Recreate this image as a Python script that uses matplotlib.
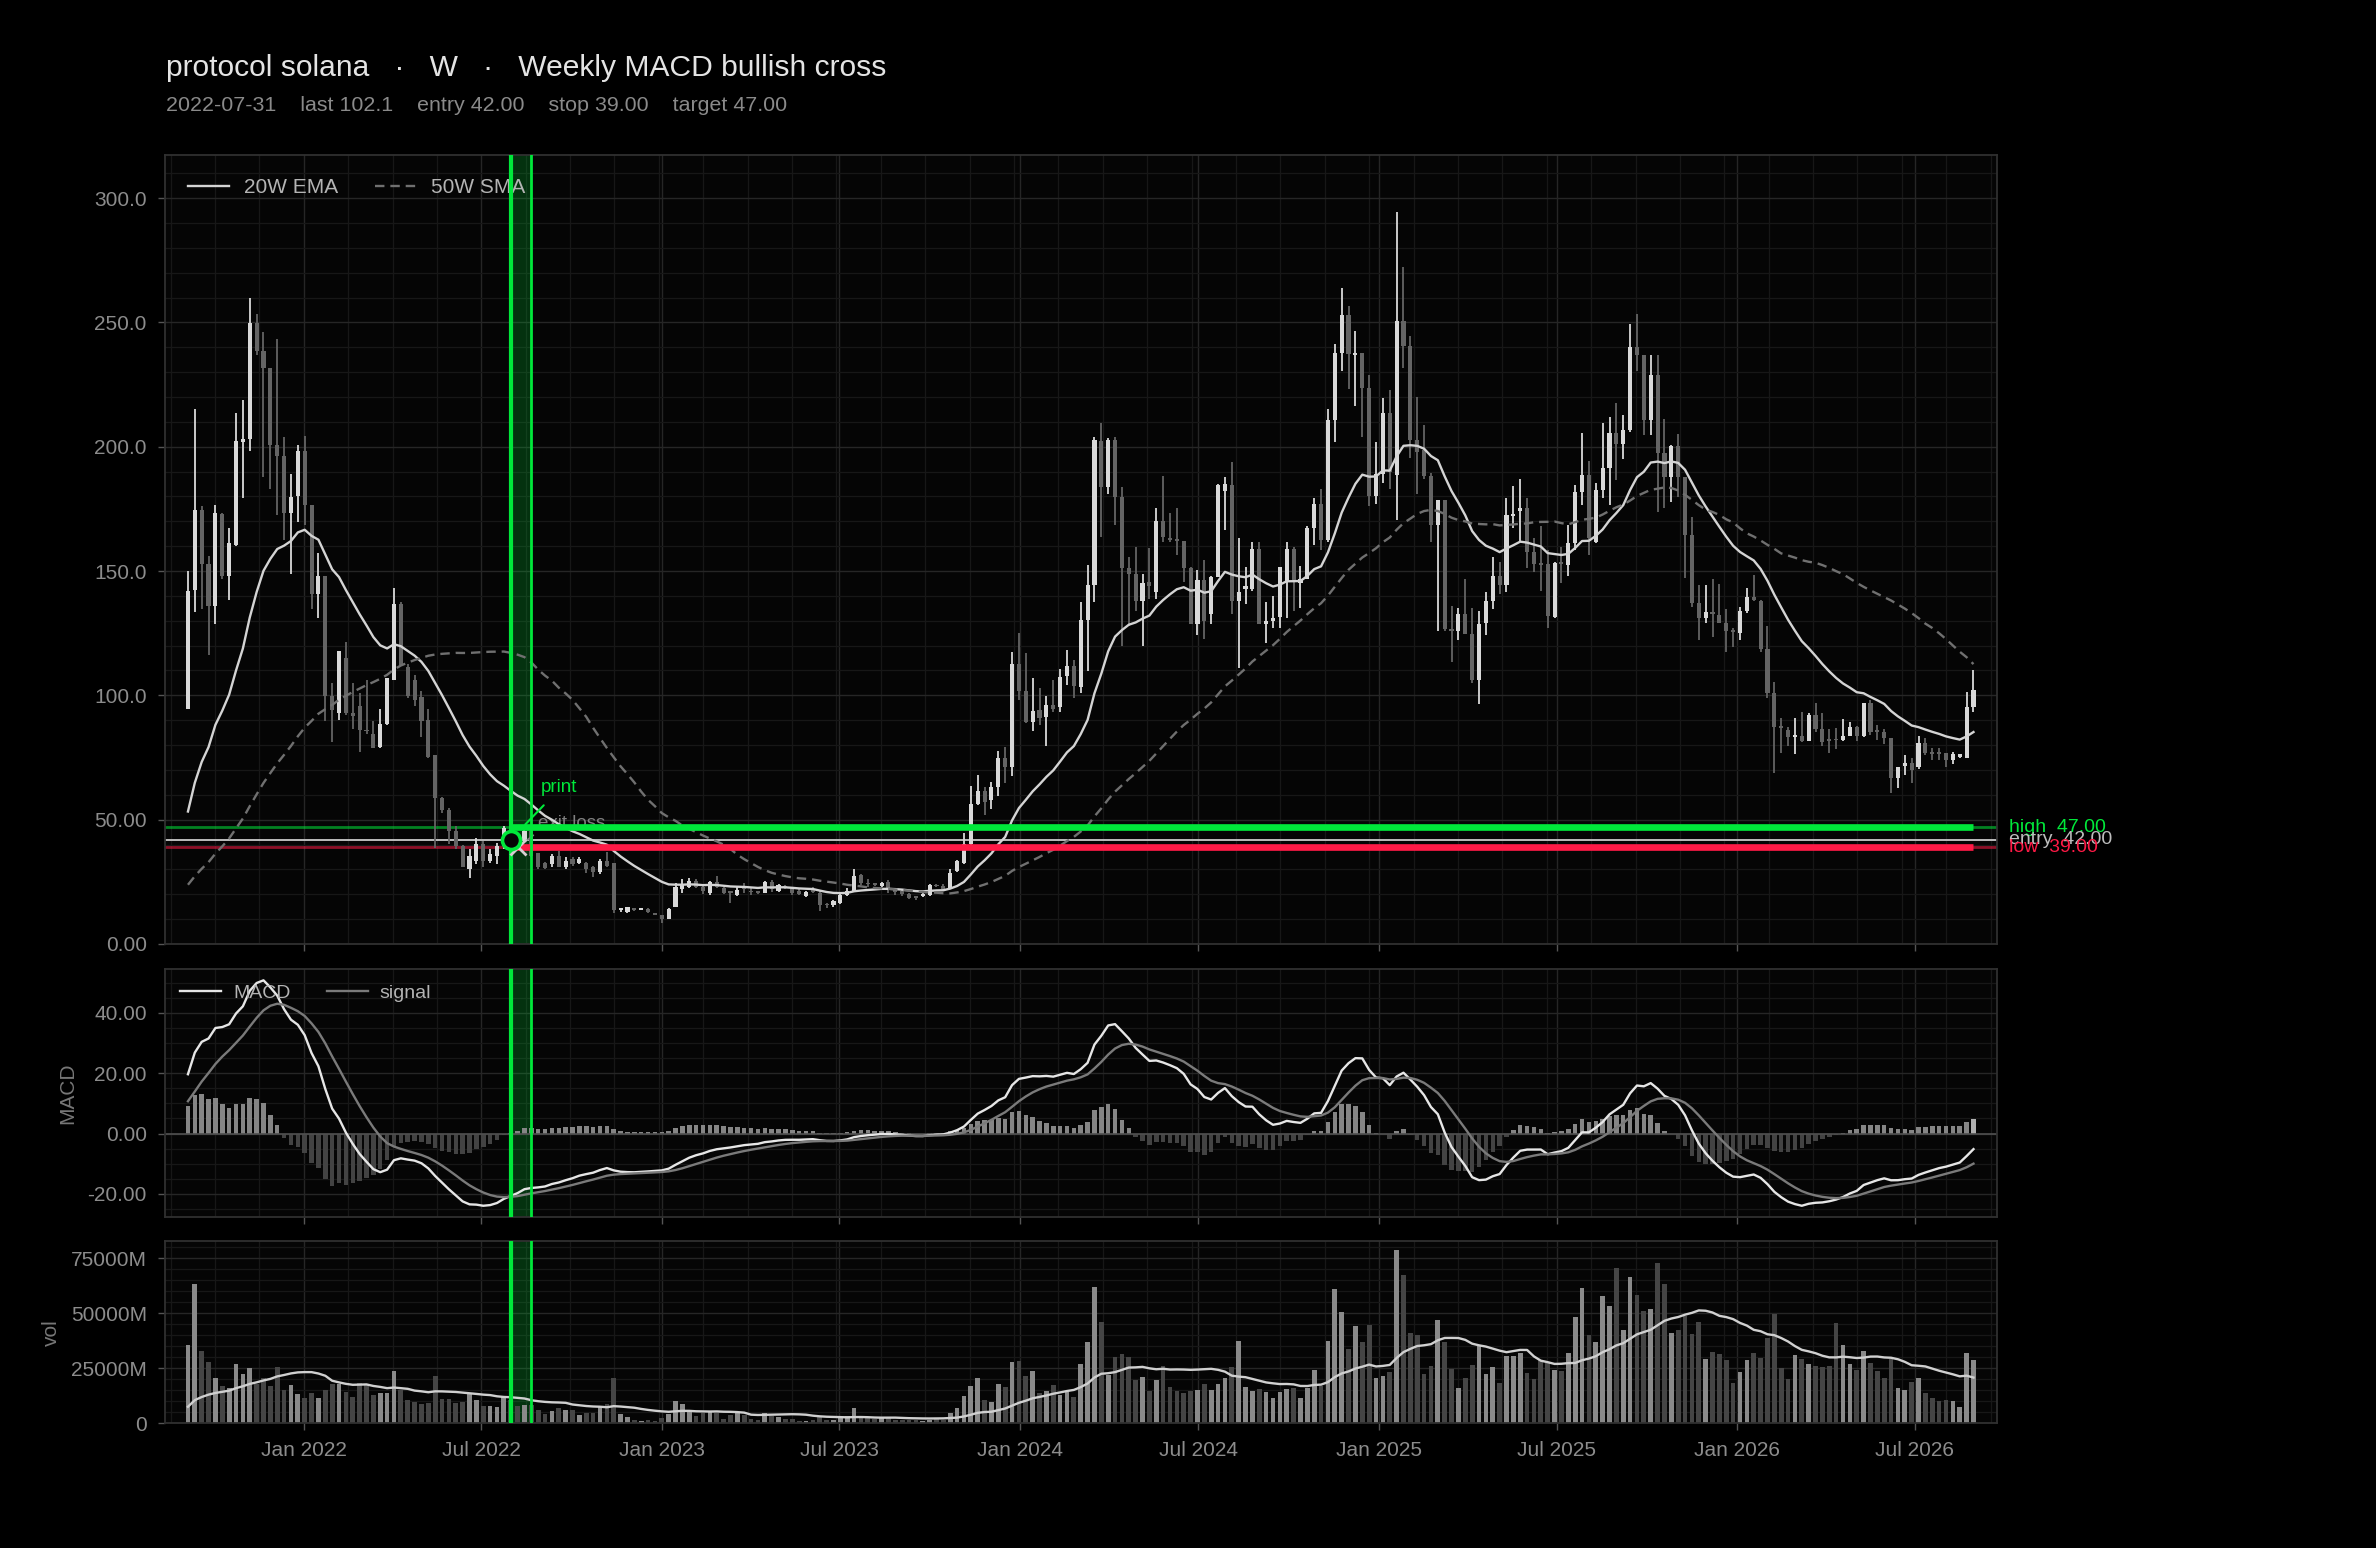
import matplotlib
matplotlib.use("Agg")
import matplotlib.pyplot as plt
import matplotlib.dates as mdates
import matplotlib.transforms as mtrans
from matplotlib.ticker import MultipleLocator, AutoMinorLocator, FuncFormatter
import numpy as np
import pandas as pd

plt.rcParams['font.family'] = ['Liberation Sans', 'DejaVu Sans']

# weekly candles, one per Sunday starting here
first_week = "2021-09-05"

opens = [
    94.7, 142.5, 174.7, 153.0, 136.1, 172.8, 148.0, 160.3, 202.0, 203.0,
    249.6, 238.7, 231.5, 200.7, 196.2, 173.2, 180.0, 198.3, 176.5, 140.8,
    148.0, 99.8, 93.0, 115.2, 93.0, 95.7, 86.0, 84.4, 79.3, 88.5,
    106.0, 136.7, 111.5, 106.0, 99.2, 89.9, 76.2, 58.8, 53.7, 45.5,
    39.3, 30.1, 33.2, 40.3, 33.2, 35.2, 39.3, 45.0, 42.0, 41.3,
    45.5, 36.6, 32.5, 32.1, 35.2, 31.1, 34.0, 32.5, 32.5, 31.0,
    29.0, 33.5, 32.5, 13.7, 12.7, 14.0, 13.8, 14.1, 12.3, 11.5,
    10.2, 14.9, 22.2, 23.0, 25.4, 23.0, 20.4, 24.8, 22.5, 21.0,
    19.5, 23.0, 21.5, 20.9, 20.7, 25.1, 21.5, 23.0, 22.5, 21.5,
    19.3, 22.2, 20.7, 16.0, 15.6, 16.4, 19.6, 21.0, 27.7, 24.5,
    24.0, 23.4, 24.8, 21.5, 21.5, 20.0, 18.9, 19.3, 19.6, 23.6,
    23.4, 22.5, 29.5, 32.7, 40.4, 56.5, 61.6, 58.0, 63.1, 74.8,
    71.1, 112.8, 101.8, 89.4, 94.1, 91.2, 96.0, 95.3, 107.6, 112.0,
    103.3, 130.3, 144.4, 202.3, 183.9, 202.9, 179.8, 151.2, 148.9, 138.1,
    145.5, 141.7, 170.0, 163.2, 163.0, 162.0, 151.2, 128.8, 146.2, 132.6,
    147.6, 182.0, 184.7, 138.1, 142.8, 142.8, 158.8, 128.8, 130.0, 131.6,
    145.5, 158.8, 145.2, 146.9, 167.3, 176.8, 162.5, 210.8, 237.7, 252.9,
    237.0, 237.7, 223.7, 180.2, 189.0, 213.5, 188.8, 250.5, 240.7, 202.9,
    198.5, 188.3, 168.4, 178.4, 126.5, 125.8, 132.6, 124.5, 106.1, 129.2,
    138.1, 148.2, 144.2, 172.0, 174.1, 175.4, 157.8, 152.8, 153.0, 131.7,
    153.0, 152.4, 161.1, 181.9, 188.6, 161.8, 182.8, 191.3, 205.6, 201.1,
    206.7, 240.2, 236.9, 210.7, 228.8, 197.6, 187.9, 200.3, 187.9, 164.5,
    137.0, 131.0, 133.2, 132.3, 129.2, 125.8, 125.2, 134.1, 139.4, 138.1,
    118.5, 100.8, 87.2, 86.1, 83.4, 83.7, 81.8, 92.1, 86.4, 82.2,
    82.3, 82.0, 83.7, 87.2, 83.7, 96.8, 85.6, 85.4, 82.7, 66.6,
    71.6, 72.7, 71.0, 81.0, 77.2, 76.8, 76.7, 73.8, 75.4, 74.7,
    95.5,
]
highs = [
    150.1, 215.1, 176.0, 156.0, 176.7, 173.5, 167.5, 213.7, 218.8, 259.8,
    253.3, 246.0, 231.5, 243.4, 204.0, 189.0, 200.7, 204.4, 176.5, 157.3,
    148.0, 104.9, 117.7, 121.3, 104.9, 100.8, 106.0, 89.5, 94.7, 107.0,
    143.3, 137.7, 112.5, 108.0, 101.9, 94.7, 76.2, 59.0, 54.7, 47.5,
    40.0, 38.3, 42.8, 41.3, 38.3, 40.7, 47.5, 47.0, 44.0, 46.0,
    46.5, 36.6, 33.0, 36.2, 37.2, 35.0, 35.0, 35.0, 33.0, 31.5,
    34.2, 37.0, 32.5, 14.5, 15.0, 14.2, 14.4, 14.3, 12.6, 11.8,
    14.3, 24.4, 26.3, 26.6, 26.0, 23.5, 25.4, 27.3, 23.0, 21.5,
    22.9, 24.4, 22.5, 21.3, 25.4, 25.8, 24.0, 23.8, 23.0, 22.0,
    21.5, 22.8, 21.5, 16.6, 17.5, 20.7, 22.5, 30.2, 28.3, 26.0,
    24.6, 24.8, 25.8, 22.0, 22.0, 20.5, 19.3, 20.5, 24.0, 24.3,
    24.0, 30.2, 33.9, 44.8, 63.4, 67.8, 63.1, 65.3, 77.7, 79.2,
    117.5, 125.2, 117.2, 106.9, 102.9, 99.6, 106.2, 110.6, 118.3, 114.2,
    137.4, 152.3, 204.0, 209.7, 203.5, 204.0, 183.9, 155.7, 159.8, 148.9,
    159.1, 175.4, 188.3, 173.4, 175.4, 162.0, 151.5, 150.3, 154.4, 148.2,
    185.2, 188.0, 193.8, 163.2, 151.6, 161.8, 161.8, 137.4, 140.0, 151.6,
    161.5, 159.8, 152.1, 168.0, 179.2, 182.9, 215.1, 241.2, 263.8, 256.6,
    246.4, 237.7, 228.7, 202.0, 219.6, 223.0, 294.4, 272.2, 244.5, 220.0,
    208.7, 189.3, 178.4, 178.4, 136.0, 135.3, 146.9, 135.3, 134.0, 141.7,
    155.7, 153.7, 179.5, 184.3, 187.0, 179.2, 163.2, 168.0, 158.4, 153.5,
    159.8, 168.5, 184.6, 205.6, 194.4, 185.5, 209.7, 211.8, 217.7, 212.7,
    249.3, 253.4, 237.0, 236.9, 236.9, 211.0, 200.7, 205.1, 188.0, 171.9,
    144.4, 144.4, 146.7, 144.8, 134.6, 127.0, 135.4, 143.0, 148.4, 138.4,
    127.9, 105.5, 90.8, 87.2, 90.8, 93.5, 92.8, 97.1, 93.1, 86.4,
    86.8, 90.4, 89.4, 87.5, 97.1, 98.1, 88.0, 86.4, 82.7, 71.2,
    76.0, 74.7, 83.7, 82.7, 78.7, 78.7, 76.7, 77.4, 76.6, 101.5,
    110.2,
]
lows = [
    94.7, 133.7, 134.7, 116.2, 128.5, 147.0, 138.2, 160.0, 179.2, 198.3,
    237.0, 188.0, 182.9, 172.6, 162.4, 149.0, 169.6, 168.5, 134.7, 131.0,
    89.5, 81.3, 90.0, 92.0, 86.5, 77.2, 84.4, 78.9, 78.9, 88.0,
    106.0, 112.0, 98.8, 95.7, 83.4, 75.0, 38.7, 52.6, 40.3, 38.3,
    31.0, 26.4, 32.1, 31.1, 32.5, 32.1, 38.3, 39.0, 38.0, 40.5,
    35.0, 30.0, 30.0, 31.1, 31.0, 30.0, 31.5, 32.0, 28.4, 27.0,
    28.0, 31.0, 12.5, 13.0, 12.5, 13.2, 13.6, 12.5, 11.5, 8.3,
    10.0, 14.8, 20.7, 22.5, 22.5, 20.0, 19.6, 22.5, 20.0, 16.3,
    19.3, 20.7, 19.6, 20.2, 20.4, 21.0, 21.0, 22.0, 19.8, 19.5,
    19.0, 20.5, 13.4, 14.5, 15.0, 16.0, 19.2, 20.8, 23.6, 23.0,
    23.2, 23.0, 20.7, 19.8, 19.3, 18.0, 17.5, 18.9, 19.3, 22.8,
    21.8, 22.2, 28.8, 32.1, 39.7, 56.0, 51.7, 54.3, 59.4, 64.6,
    67.5, 98.2, 88.7, 85.8, 88.0, 79.5, 93.5, 93.5, 104.0, 98.9,
    100.8, 109.9, 137.6, 163.5, 180.9, 168.4, 120.0, 127.9, 134.0, 119.7,
    138.7, 138.7, 161.5, 161.8, 156.4, 145.5, 128.5, 124.1, 122.7, 128.8,
    147.6, 166.6, 132.6, 110.9, 136.7, 142.1, 128.5, 121.0, 127.2, 127.2,
    131.2, 134.0, 135.3, 146.9, 160.5, 158.4, 161.8, 202.0, 230.5, 223.3,
    216.5, 204.0, 176.1, 177.0, 185.6, 183.0, 170.7, 231.8, 195.5, 180.9,
    187.0, 161.6, 125.8, 126.0, 113.6, 122.4, 124.5, 104.8, 96.6, 124.1,
    134.7, 140.8, 141.4, 167.3, 161.8, 151.2, 149.6, 142.1, 127.0, 131.0,
    145.0, 148.0, 158.5, 176.5, 156.4, 161.4, 179.2, 176.5, 186.6, 194.9,
    206.0, 230.6, 204.7, 204.7, 173.9, 175.2, 177.9, 179.6, 147.1, 135.7,
    122.3, 129.0, 123.6, 129.0, 117.6, 119.6, 122.3, 133.0, 138.0, 117.6,
    98.8, 68.9, 77.0, 79.7, 76.4, 81.4, 81.5, 85.4, 79.7, 77.0,
    78.3, 81.8, 83.5, 81.8, 83.3, 84.1, 82.0, 80.5, 60.6, 62.6,
    68.0, 64.6, 70.3, 76.0, 74.0, 73.8, 71.0, 72.4, 75.0, 74.7,
    93.5,
]
closes = [
    141.9, 174.7, 152.7, 136.1, 173.2, 148.0, 161.4, 202.4, 203.0, 249.6,
    238.7, 231.5, 200.7, 196.2, 173.2, 179.8, 198.3, 176.7, 140.8, 148.0,
    99.8, 94.3, 117.7, 93.0, 91.6, 86.1, 85.5, 78.9, 88.5, 107.0,
    136.7, 112.1, 99.8, 98.2, 89.5, 75.2, 58.8, 53.7, 45.5, 39.3,
    31.1, 35.2, 40.3, 33.2, 36.2, 39.3, 46.5, 42.0, 41.3, 45.5,
    35.2, 31.1, 30.5, 35.2, 31.1, 33.2, 32.0, 34.0, 30.1, 29.0,
    33.5, 31.5, 13.7, 14.0, 14.7, 13.7, 14.1, 12.7, 11.7, 10.2,
    14.1, 22.9, 23.6, 25.4, 23.0, 21.5, 24.8, 23.0, 20.7, 20.5,
    21.9, 22.2, 20.8, 20.7, 25.1, 22.2, 23.6, 22.5, 20.7, 20.0,
    21.0, 21.0, 15.6, 15.5, 17.1, 19.6, 21.5, 27.3, 24.4, 24.0,
    23.8, 24.4, 22.2, 21.0, 20.0, 18.5, 18.5, 20.0, 23.6, 23.2,
    22.2, 28.7, 33.2, 40.4, 56.5, 61.6, 57.2, 63.1, 74.8, 71.1,
    112.8, 101.8, 89.4, 93.8, 90.9, 96.0, 94.5, 107.2, 112.0, 103.7,
    130.3, 144.2, 202.6, 183.9, 202.9, 179.8, 151.2, 148.9, 138.1, 145.3,
    143.9, 170.0, 163.5, 162.5, 162.0, 151.2, 128.8, 146.2, 129.9, 147.6,
    184.7, 185.0, 138.1, 141.4, 143.8, 158.8, 128.8, 129.9, 131.3, 151.6,
    158.8, 146.2, 146.9, 167.3, 176.8, 162.5, 210.8, 237.7, 252.9, 237.3,
    237.5, 223.7, 180.2, 189.0, 213.5, 189.7, 250.5, 240.7, 202.9, 197.9,
    188.3, 168.4, 178.4, 126.5, 125.8, 132.6, 124.5, 106.1, 128.5, 138.1,
    148.2, 144.2, 172.7, 173.1, 175.4, 157.8, 153.0, 152.5, 132.0, 153.4,
    152.8, 161.1, 181.9, 188.6, 163.1, 182.8, 191.3, 205.6, 201.1, 206.7,
    240.2, 236.9, 210.7, 228.8, 197.6, 187.9, 200.3, 187.9, 164.5, 137.0,
    131.0, 133.7, 132.8, 129.2, 126.0, 125.5, 134.1, 139.4, 138.4, 118.5,
    100.8, 87.2, 87.0, 83.1, 84.1, 81.8, 92.1, 86.4, 81.4, 81.8,
    81.9, 83.7, 87.2, 83.7, 96.8, 85.4, 85.2, 82.7, 66.6, 71.0,
    72.7, 70.0, 81.0, 77.0, 76.6, 76.6, 74.0, 76.4, 76.4, 95.5,
    102.1,
]
# weekly volume, millions
volume_m = [
    35600, 63300, 33000, 27600, 20600, 17000, 16000, 27000, 22400, 25200,
    18000, 20600, 17000, 25600, 15200, 17400, 13300, 11500, 13800, 11500,
    15200, 18000, 18000, 14400, 12000, 18400, 18000, 13000, 13800, 13800,
    23800, 15200, 10600, 9500, 8600, 9000, 21500, 11100, 11100, 9000,
    9500, 13300, 10600, 7900, 7900, 7400, 12000, 10500, 7900, 8300,
    8300, 6100, 4300, 5600, 7000, 6100, 6100, 3800, 4700, 4700,
    7400, 8600, 20600, 4300, 3000, 1500, 1100, 1500, 800, 2400,
    4300, 10300, 8900, 5200, 3300, 4700, 5200, 4800, 2000, 3800,
    4800, 3800, 2000, 1500, 4500, 3500, 2900, 2000, 2000, 1100,
    1100, 1500, 3000, 1500, 1500, 3000, 3300, 6900, 2600, 2300,
    1800, 2600, 2300, 1500, 1500, 1500, 1500, 1100, 1500, 1800,
    1500, 4500, 6800, 12200, 16900, 20400, 10500, 9600, 17800, 16500,
    27800, 28300, 21400, 23700, 13600, 14700, 17400, 12900, 14400, 11700,
    27000, 36900, 61900, 46000, 21900, 30100, 31500, 30100, 19600, 21000,
    14700, 19600, 26000, 16500, 14700, 13800, 14700, 15200, 17800, 15200,
    17800, 20400, 25500, 37400, 16500, 14500, 15500, 14200, 11500, 14200,
    15600, 16000, 11500, 16000, 24200, 17000, 37400, 61000, 50600, 33800,
    44100, 36900, 44500, 20600, 21500, 23300, 78800, 67400, 41000, 40100,
    22400, 26000, 46900, 36900, 24700, 16000, 20600, 26500, 35600, 22400,
    25600, 18400, 30600, 30600, 32000, 22900, 20100, 28800, 27400, 24200,
    23800, 32000, 48300, 61500, 40100, 36900, 57700, 53100, 70400, 42500,
    66400, 58200, 50900, 51800, 72700, 63300, 41000, 42500, 48800, 40600,
    46000, 29000, 32200, 31300, 28800, 18400, 23300, 28800, 32000, 29700,
    38800, 49700, 25200, 20100, 31100, 29300, 27000, 26000, 25600, 26000,
    45600, 35600, 27000, 24200, 32800, 27400, 23800, 20600, 29300, 16000,
    15200, 18800, 20600, 13800, 11500, 10000, 10400, 10000, 7300, 32000,
    28500,
]

# weeks before the first drawn candle (Sep 2020 - Aug 2021), only used to warm up the indicators
pre_closes = [
    3.0, 3.0, 2.6, 2.6, 2.3, 1.7, 1.5, 2.0, 2.2, 2.0,
    1.9, 1.6, 1.6, 1.5, 1.7, 2.2, 3.5, 3.6, 3.7, 4.2,
    8.0, 8.8, 13.0, 14.0, 15.5, 15.5, 17.0, 18.5, 22.0, 27.0,
    30.0, 32.0, 43.0, 45.0, 45.0, 33.0, 34.0, 40.0, 36.0, 30.0,
    33.0, 34.0, 31.0, 25.0, 30.0, 37.0, 45.0, 68.0, 78.0, 95.0,
]
pre_volume_m = [3000, 4500, 6000, 5500, 7000, 5000, 4500, 5000, 4000, 3500,
                3500, 3000, 2800, 2500, 3000, 4000, 9000, 14000, 24000]

signal_date = "2022-07-31"
exit_date = "2022-08-07"
window_end = "2022-08-21"
entry_px, stop_px, target_px = 42.0, 39.0, 47.0
last_px = 102.1

title = "protocol solana   \u00b7   W   \u00b7   Weekly MACD bullish cross"
subtitle = (f"{signal_date}    last {last_px:.1f}    entry {entry_px:.2f}    "
            f"stop {stop_px:.2f}    target {target_px:.2f}")

# ---------------------------------------------------------------- indicators
o = np.array(opens); h = np.array(highs); l = np.array(lows); c = np.array(closes)
vol = np.array(volume_m, dtype=float)
n = len(c)
dates = pd.date_range(first_week, periods=n, freq="7D")
x = mdates.date2num(dates.to_pydatetime())

npre = len(pre_closes)
cs = pd.Series(pre_closes + closes)
ema20 = cs.ewm(span=20, adjust=False).mean().values[npre:]
sma50 = cs.rolling(50, min_periods=1).mean().values[npre:]
macd_full = cs.ewm(span=12, adjust=False).mean() - cs.ewm(span=26, adjust=False).mean()
signal_full = macd_full.ewm(span=9, adjust=False).mean()
macd = macd_full.values[npre:]
signal = signal_full.values[npre:]
hist = macd - signal
vs = pd.Series(pre_volume_m + volume_m, dtype=float)
vol_ma = vs.rolling(20, min_periods=1).mean().values[len(pre_volume_m):]

up = c >= o

# ---------------------------------------------------------------- figure
BG = "#000000"
AX_BG = "#050505"
GREEN = "#00e83a"
RED = "#ff1a46"
TICK = "#8c8c8c"
FS = 15

fig = plt.figure(figsize=(23.76, 15.48), dpi=100, facecolor=BG)
L, W = 0.0694, 0.7711
ax = fig.add_axes([L, 0.3902, W, 0.5097])
axm = fig.add_axes([L, 0.2138, W, 0.1602], sharex=ax)
axv = fig.add_axes([L, 0.0806, W, 0.1177], sharex=ax)


def price_fmt(v, pos):
    return f"{v:.1f}" if abs(v) >= 100 else f"{v:.2f}"


for a in (ax, axm, axv):
    a.set_facecolor(AX_BG)
    a.set_axisbelow(True)
    for s in a.spines.values():
        s.set_color("#303030")
        s.set_linewidth(1.3)
    a.xaxis.set_major_locator(mdates.MonthLocator(bymonth=[1, 7]))
    a.xaxis.set_major_formatter(mdates.DateFormatter("%b %Y"))
    a.xaxis.set_minor_locator(AutoMinorLocator())
    a.yaxis.set_minor_locator(AutoMinorLocator())
    a.grid(True, which="major", color="#262626", lw=1.0)
    a.grid(True, which="minor", color="#171717", lw=0.9)
    a.tick_params(which="major", length=5, width=1, color="#555555", labelcolor=TICK,
                  labelsize=FS, pad=8)
    a.tick_params(which="minor", length=0)
    a.axvspan(mdates.datestr2num(signal_date), mdates.datestr2num(window_end),
              color=GREEN, alpha=0.2, lw=0, zorder=1)
    a.axvline(mdates.datestr2num(signal_date), color=GREEN, lw=3, zorder=6)
    a.axvline(mdates.datestr2num(window_end), color=GREEN, lw=2, zorder=6)

ax.tick_params(labelbottom=False)
axm.tick_params(labelbottom=False)
ax.set_xlim(x[0] - 23.5, x[-1] + 24)

# ---------------------------------------------------------------- price panel
candle_col = np.where(up, "#d9d9d9", "#646464")
ax.vlines(x, l, h, colors=candle_col, lw=1.3, zorder=3)
body_lo = np.minimum(o, c)
body_h = np.maximum(np.abs(c - o), 0.7)
ax.bar(x, body_h, bottom=body_lo, width=4.2, color=candle_col, lw=0, zorder=3)

ax.plot(x, ema20, color="#d4d4d4", lw=1.7, zorder=4, label="20W EMA")
ax.plot(x, sma50, color="#707070", lw=1.7, ls=(0, (4, 2.5)), zorder=4, label="50W SMA")

xs = mdates.datestr2num(signal_date)
xe = mdates.datestr2num(exit_date)
ax.axhline(target_px, color=GREEN, alpha=0.55, lw=2, zorder=2)
ax.axhline(entry_px, color="#bdbdbd", lw=1.4, zorder=2)
ax.axhline(stop_px, color=RED, alpha=0.55, lw=2, zorder=2)
ax.hlines(target_px, xs, x[-1], color=GREEN, lw=4.8, zorder=5)
ax.hlines(stop_px, xs, x[-1], color=RED, lw=4.8, zorder=5)

ax.annotate("exit loss", xy=(xe, stop_px), xytext=(15, 14), textcoords="offset points",
            ha="left", va="baseline", fontsize=13.5, color="#808080", zorder=3,
            arrowprops=dict(arrowstyle="-", color="#808080", lw=1.2, relpos=(0, 0),
                            shrinkA=2, shrinkB=6))
ax.plot([xe], [stop_px], marker="x", ms=11, mew=2, color="#d8cdd2", zorder=7, ls="none")
ax.annotate("print", xy=(xs, entry_px), xytext=(22, 31), textcoords="offset points",
            ha="left", va="bottom", fontsize=13.5, color=GREEN, zorder=8,
            arrowprops=dict(arrowstyle="-", color=GREEN, lw=1.5, relpos=(0.3, 0),
                            shrinkA=6, shrinkB=15))
ax.plot([xs], [entry_px], marker="o", ms=13, mew=2.6, mec=GREEN, mfc=AX_BG,
        ls="none", zorder=8)

tr = mtrans.blended_transform_factory(ax.transAxes, ax.transData)
ax.text(1.0066, target_px, f"high  {target_px:.2f}", transform=tr, va="center",
        fontsize=14, color=GREEN)
ax.text(1.0066, entry_px, f"entry  {entry_px:.2f}", transform=tr, va="center",
        fontsize=14, color="#bdbdbd")
ax.text(1.0066, stop_px, f"low  {stop_px:.2f}", transform=tr, va="center",
        fontsize=14, color=RED)

ax.set_ylim(0, h.max() * 1.078)
ax.yaxis.set_major_locator(MultipleLocator(50))
ax.yaxis.set_major_formatter(FuncFormatter(price_fmt))
ax.legend(loc="upper left", ncol=2, frameon=False, fontsize=FS, labelcolor="#b4b4b4",
          handlelength=2.0, handletextpad=0.7, columnspacing=1.75, borderaxespad=0.7)

# ---------------------------------------------------------------- MACD panel
hist_col = np.where(hist >= 0, "#858585", "#434343")
hist_col[-1] = "#b0b0b0"
axm.bar(x, hist, width=4.6, color=hist_col, lw=0, zorder=2)
axm.axhline(0, color="#505050", lw=1.2, zorder=2)
axm.plot(x, macd, color="#e6e6e6", lw=1.7, zorder=4, label="MACD")
axm.plot(x, signal, color="#7a7a7a", lw=1.7, zorder=4, label="signal")
axm.yaxis.set_major_locator(MultipleLocator(20))
axm.yaxis.set_major_formatter(FuncFormatter(price_fmt))
axm.set_ylabel("MACD", fontsize=FS, color="#777777", labelpad=7)
axm.legend(loc="upper left", ncol=2, frameon=False, fontsize=14, labelcolor="#b4b4b4",
           handlelength=2.1, handletextpad=0.6, columnspacing=1.9, borderaxespad=0.4)

# ---------------------------------------------------------------- volume panel
vol_col = np.where(up, "#8a8a8a", "#454545")
axv.bar(x, vol, width=4.8, color=vol_col, lw=0, zorder=2)
axv.plot(x, vol_ma, color="#d0d0d0", lw=1.7, zorder=4)
axv.yaxis.set_major_locator(MultipleLocator(25000))
axv.yaxis.set_major_formatter(FuncFormatter(lambda v, p: "0" if v == 0 else f"{v:.0f}M"))
axv.set_ylabel("vol", fontsize=FS, color="#777777", labelpad=7)

# ---------------------------------------------------------------- titles
fig.text(0.0699, 0.9509, title, fontsize=21.6, color="#e4e4e4", va="baseline", ha="left")
fig.text(0.0699, 0.9283, subtitle, fontsize=15.4, color="#8a8a8a", va="baseline", ha="left")

fig.savefig("out.png", dpi=100, facecolor=BG)
